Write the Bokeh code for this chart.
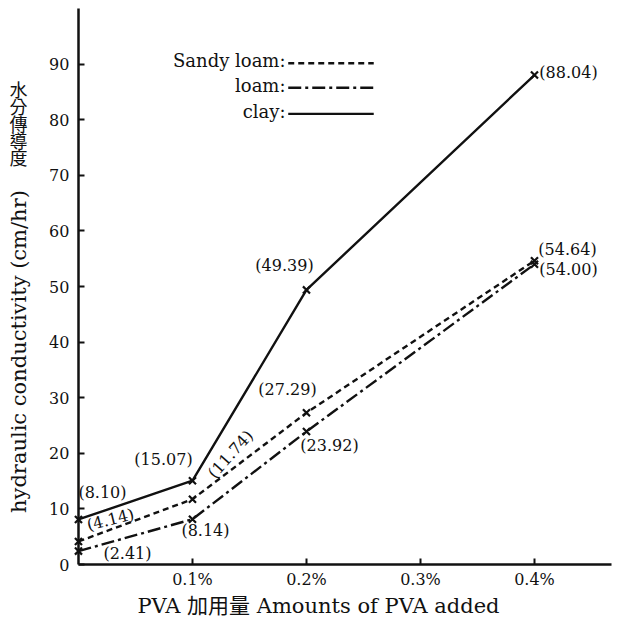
import math
from bokeh.plotting import figure
from bokeh.models import (Range1d, FixedTicker, Label, ColumnDataSource,
                          PrintfTickFormatter, LinearAxis)
from bokeh.embed import file_html
from bokeh.resources import INLINE
from bokeh.core.properties import value

# ---------------- data ----------------
pva_added = [0.0, 0.1, 0.2, 0.4]            # amount of PVA (0.1 = 0.1%)
sandy_loam = [4.14, 11.74, 27.29, 54.64]
loam = [2.41, 8.14, 23.92, 54.00]
clay = [8.10, 15.07, 49.39, 88.04]
series_names = ["Sandy loam:", "loam:", "clay:"]
x_ticks = [0.1, 0.2, 0.3, 0.4]
y_ticks = [0, 10, 20, 30, 40, 50, 60, 70, 80, 90]
x_title = "PVA 加用量 Amounts of PVA added"
y_title_zh = ["水", "分", "傳", "導", "度"]
y_title_en = "hydraulic conductivity (cm/hr)"

# ---------------- layout / style ----------------
SERIF = "DejaVu Serif, Noto Sans CJK TC"
INK = "#111111"
W, H = 627, 624
X_MAX, Y_MAX = 0.468, 100
# frame fills the canvas; axes are pinned at 0 so titles can sit inside it
p = figure(width=W, height=H, output_backend="svg", toolbar_location=None,
           x_range=Range1d(-0.0684, 0.4816), y_range=Range1d(-10.79, 101.44),
           x_axis_type=None, y_axis_type=None,
           min_border=0, background_fill_color="white",
           border_fill_color="white")
p.outline_line_color = None

xaxis = LinearAxis(fixed_location=0, bounds=(0, X_MAX))
yaxis = LinearAxis(fixed_location=0, bounds=(0, Y_MAX))
p.add_layout(xaxis, "below")
p.add_layout(yaxis, "left")

for ax in (xaxis, yaxis):
    ax.axis_line_width = 2.5
    ax.axis_line_color = INK
    ax.major_tick_line_color = INK
    ax.major_tick_line_width = 2
    ax.major_tick_out = 0
    ax.minor_tick_line_color = None
    ax.major_label_text_font = SERIF
    ax.major_label_text_font_size = "16px"
    ax.major_label_text_color = INK

xaxis.ticker = FixedTicker(ticks=x_ticks)
xaxis.formatter = PrintfTickFormatter(format="%.1f%%")
xaxis.major_tick_in = 6
xaxis.major_label_standoff = 5
yaxis.ticker = FixedTicker(ticks=y_ticks)
yaxis.major_tick_in = 6
yaxis.major_label_standoff = 9

# ---------------- series ----------------
dashes = {"Sandy loam:": "6 4", "loam:": "13 4 3 4", "clay:": "solid"}
series = {"Sandy loam:": sandy_loam, "loam:": loam, "clay:": clay}

# label offsets (screen px, +y is down) and rotation for each point label
label_style = {
    "clay:": [(24, -27, 0), (-29, -21, 0), (-22, -24, 0), (34, -3, 0)],
    "Sandy loam:": [(32, -22, 14), (38, -45, 48), (-19, -23, 0), (33, -11, 0)],
    "loam:": [(49, 2, 0), (13, 11, 0), (23, 14, 0), (34, 5, 0)],
}

for name in series_names:
    vals = series[name]
    p.line(pva_added, vals, line_color=INK, line_width=2.4, line_dash=dashes[name])
    p.scatter(pva_added, vals, marker="x", size=10, line_color=INK, line_width=2.2)
    st = label_style[name]
    src = ColumnDataSource(dict(
        x=pva_added, y=vals, t=["(%.2f)" % v for v in vals],
        dx=[s[0] for s in st], dy=[s[1] for s in st],
        a=[math.radians(s[2]) for s in st]))
    p.text(x="x", y="y", text="t", x_offset="dx", y_offset="dy", angle="a",
           source=src, text_font=value(SERIF), text_font_size="16px",
           text_color=INK, text_align="center", text_baseline="middle")

# ---------------- hand-drawn legend (label then line sample) ----------------
leg_x_text = 0.1816
leg_x0, leg_x1 = 0.184, 0.259
leg_y = [90.6, 86.2, 81.5]
for name, yy in zip(series_names, leg_y):
    p.add_layout(Label(x=leg_x_text, y=yy, text=name, text_font=SERIF,
                       text_font_size="18px", text_color=INK,
                       text_align="right", text_baseline="middle"))
    p.segment(x0=[leg_x0], y0=[yy - 0.45], x1=[leg_x1], y1=[yy - 0.45],
              line_color=INK, line_width=2.4, line_dash=dashes[name])

# ---------------- axis titles ----------------
p.add_layout(Label(x=0.2105, y=-7.55, text=x_title, text_font=SERIF,
                   text_font_size="21px", text_color=INK,
                   text_align="center", text_baseline="middle"))
for i, ch in enumerate(y_title_zh):
    p.add_layout(Label(x=-0.0526, y=85.6 - i * 3.09, text=ch,
                       text_font="Noto Sans CJK TC", text_font_size="18px",
                       text_color=INK, text_align="center",
                       text_baseline="middle"))
p.add_layout(Label(x=-0.0526, y=38.3, text=y_title_en, text_font=SERIF,
                   text_font_size="21px", text_color=INK, angle=math.pi / 2,
                   text_align="center", text_baseline="middle"))

open("out.html", "w").write(file_html(p, INLINE))
